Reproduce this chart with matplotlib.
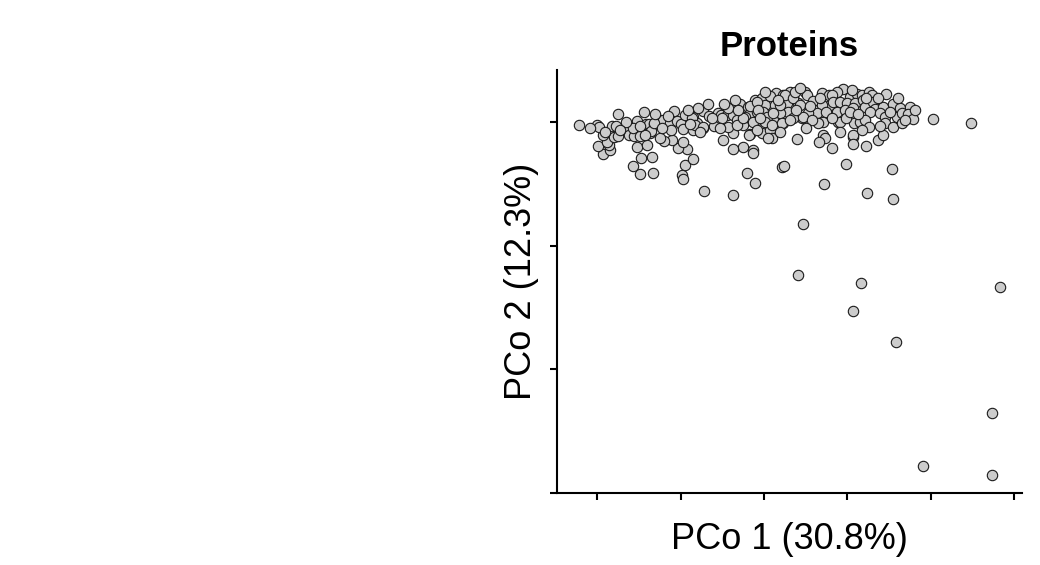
import numpy as np
import matplotlib.pyplot as plt

plt.rcParams['font.family'] = ['Liberation Sans', 'DejaVu Sans']

# PCoA scores (PCo 1, PCo 2)
pco1 = [
    0.0216, 0.0240, 0.0984, 0.1536, 0.0720, 0.1236, 0.1548, 0.0468, 0.0408, 0.1164,
    0.2832, 0.1068, 0.1584, 0.2736, 0.1908, 0.2736, 0.2028, 0.2484, 0.1064, 0.1072,
    0.1064, 0.1224, 0.1368, 0.1428, 0.0816, -0.0108, -0.0204, 0.0704, 0.0732, 0.0664,
    0.0392, -0.0248, -0.0136, -0.0136, -0.0168, -0.0028, 0.0072, 0.0092, 0.0052, -0.0368,
    -0.0716, -0.0988, -0.0976, -0.0948, -0.0856, -0.1336, -0.1348, -0.0928, -0.1028, -0.0968,
    -0.1108, -0.1200, -0.1248, -0.1368, -0.0496, -0.0368, -0.0376, -0.0176, -0.1488, -0.1576,
    -0.1476, -0.1520, -0.1400, -0.1928, -0.1848, -0.1988, -0.1856, -0.1888, -0.1936, -0.1800,
    -0.1748, -0.2224, -0.2008, -0.1976, -0.1756, -0.1828, -0.1776, -0.1656, -0.1616, -0.1560,
    -0.1520, -0.1568, -0.1488, -0.1420, -0.1376, -0.1316, -0.1360, -0.1428, -0.1248, -0.1208,
    -0.1076, -0.1128, -0.1040, -0.0996, -0.1120, -0.0968, -0.0948, -0.0848, -0.0856, -0.0808,
    -0.0728, -0.0728, -0.0656, -0.0600, -0.0548, -0.0520, -0.0448, -0.0408, -0.0368, -0.0428,
    -0.0320, -0.0288, -0.0228, -0.0188, -0.1320, -0.0108, -0.0028, -0.0168, -0.0088, 0.0012,
    -0.0008, 0.0132, 0.0144, 0.0232, 0.0312, 0.0352, 0.0272, 0.0292, 0.0192, 0.0412,
    0.0492, 0.0512, 0.0592, 0.0692, 0.0784, 0.0792, 0.0692, 0.0632, 0.0532, 0.0452,
    0.0352, 0.0232, 0.0112, 0.0032, -0.0108, -0.0228, -0.0248, -0.0128, 0.0712, 0.0652,
    0.0892, 0.0952, 0.0872, 0.1032, 0.1112, 0.1172, 0.1264, 0.1292, 0.1464, 0.0812,
    0.0832, 0.0912, 0.0992, 0.1092, 0.1192, 0.1212, 0.1312, 0.1332, 0.1432, 0.1544,
    0.1632, 0.1752, 0.0872, 0.0972, 0.1072, 0.1272, 0.1392, 0.1452, 0.1592, 0.1652,
    0.1732, 0.1784, 0.0912, 0.1080, 0.1152, 0.1212, 0.1264, 0.1452, 0.1552, 0.1652,
    -0.0868, -0.0828, -0.0728, -0.0508, -0.0428, -0.0328, -0.0248, -0.0168, -0.0088, -0.0068,
    0.0012, 0.0092, 0.0112, 0.0192, 0.0212, 0.0252, 0.0312, 0.0352, 0.0372, 0.0432,
    0.0472, -0.0912, -0.0792, -0.0672, -0.0624, -0.0480, -0.0348, -0.0312, -0.0048, 0.0072,
    0.0168, 0.0384, 0.0552, 0.0576, 0.0744, 0.0816, 0.0984, 0.1032, 0.1128, 0.1368,
    0.1512, 0.1692, -0.1224, -0.1152, -0.1488, -0.1656, -0.1728, -0.1908, -0.2088, -0.0768,
    -0.0528, -0.0084, 0.0192, 0.0504, 0.0912, 0.1176, 0.1392, -0.1440, -0.1308, -0.0888,
    0.0012, 0.0432, 0.0672, 0.1056, 0.1224, 0.1608, 0.1812,
]
pco2 = [
    -0.0362, -0.0354, -0.0338, -0.0378, -0.0500, -0.0573, -0.0621, -0.0824, -0.1237, -0.1302,
    -0.1334, -0.1528, -0.1780, -0.2355, -0.2784, -0.2857, 0.0031, -0.0006, -0.0122, -0.0103,
    -0.0176, -0.0192, -0.0143, -0.0103, -0.0208, -0.0492, -0.0411, -0.0103, -0.0130, -0.0157,
    -0.0135, -0.0198, -0.0224, -0.0251, -0.0097, -0.0089, -0.0062, -0.0125, -0.0130, -0.0589,
    -0.0554, -0.0427, -0.0462, -0.0346, -0.0300, -0.0413, -0.0279, -0.0216, -0.0211, -0.0157,
    -0.0143, -0.0151, -0.0130, -0.0087, -0.0143, -0.0089, -0.0219, -0.0103, -0.0421, -0.0352,
    -0.0287, -0.0203, -0.0184, -0.0254, -0.0224, -0.0194, -0.0184, -0.0157, -0.0103, -0.0117,
    -0.0109, -0.0019, -0.0019, -0.0041, 0.0065, -0.0032, -0.0032, -0.0049, -0.0103, -0.0109,
    0.0011, -0.0049, -0.0109, -0.0016, -0.0014, -0.0016, -0.0070, -0.0103, 0.0019, 0.0019,
    0.0092, -0.0003, 0.0013, -0.0014, -0.0062, -0.0057, 0.0059, 0.0045, -0.0062, -0.0008,
    0.0094, -0.0049, 0.0051, -0.0030, 0.0073, 0.0059, 0.0059, 0.0113, 0.0059, -0.0036,
    0.0019, 0.0148, 0.0032, 0.0126, -0.0008, 0.0181, 0.0194, 0.0073, 0.0086, 0.0140,
    0.0086, 0.0140, 0.0240, 0.0221, 0.0248, 0.0207, 0.0154, 0.0086, 0.0073, 0.0154,
    0.0248, 0.0221, 0.0175, 0.0235, 0.0221, 0.0140, 0.0140, 0.0073, 0.0073, 0.0032,
    0.0032, -0.0008, 0.0019, 0.0045, 0.0005, 0.0045, -0.0022, 0.0005, 0.0005, -0.0008,
    0.0005, 0.0267, 0.0248, 0.0207, 0.0229, 0.0221, 0.0248, 0.0221, 0.0229, 0.0221,
    0.0167, 0.0167, 0.0154, 0.0154, 0.0181, 0.0126, 0.0167, 0.0105, 0.0126, 0.0148,
    0.0113, 0.0126, 0.0086, 0.0100, 0.0113, 0.0086, 0.0073, 0.0045, 0.0041, 0.0073,
    0.0065, 0.0024, 0.0005, -0.0008, 0.0005, 0.0019, -0.0036, -0.0003, -0.0036, -0.0003,
    0.0032, -0.0022, -0.0036, 0.0032, 0.0113, -0.0022, 0.0032, 0.0134, 0.0167, 0.0100,
    0.0005, -0.0022, 0.0073, 0.0140, -0.0008, 0.0221, 0.0019, 0.0194, 0.0248, 0.0140,
    0.0045, 0.0100, 0.0116, 0.0148, 0.0035, 0.0148, 0.0181, 0.0100, 0.0035, 0.0213,
    0.0181, 0.0100, 0.0132, 0.0019, 0.0083, 0.0035, 0.0035, 0.0083, 0.0067, 0.0197,
    0.0083, 0.0019, -0.0047, 0.0051, -0.0030, 0.0002, -0.0062, -0.0079, -0.0046, -0.0079,
    -0.0046, -0.0062, -0.0079, -0.0046, -0.0079, -0.0062, -0.0030, 0.0084, 0.0067, -0.0014,
    0.0245, 0.0277, 0.0197, 0.0262, 0.0197, 0.0197, 0.0100,
]

x_ticks = [-0.2, -0.1, 0.0, 0.1, 0.2, 0.3]
y_ticks = [0.0, -0.1, -0.2, -0.3]

fig = plt.figure(figsize=(10.4, 5.65), dpi=100)
ax = fig.add_axes([0.5356, 0.1274, 0.4471, 0.7487])

ax.scatter(pco1, pco2, s=56, facecolor='#cccccc', edgecolor='#1a1a1a',
           linewidth=0.8, zorder=3)

ax.set_xlim(-0.2484, 0.3096)
ax.set_ylim(-0.3003, 0.0424)
ax.set_xticks(x_ticks)
ax.set_yticks(y_ticks)
ax.tick_params(direction='out', length=5, width=1.5, color='black',
               labelbottom=False, labelleft=False)

for side in ['top', 'right']:
    ax.spines[side].set_visible(False)
for side in ['left', 'bottom']:
    ax.spines[side].set_linewidth(1.5)
    ax.spines[side].set_color('black')

ax.set_title('Proteins', fontsize=25, fontweight='bold', pad=10)
ax.set_xlabel('PCo 1 (30.8%)', fontsize=26, labelpad=16)
ax.set_ylabel('PCo 2 (12.3%)', fontsize=26, labelpad=8)

fig.savefig('out.png', dpi=100)
